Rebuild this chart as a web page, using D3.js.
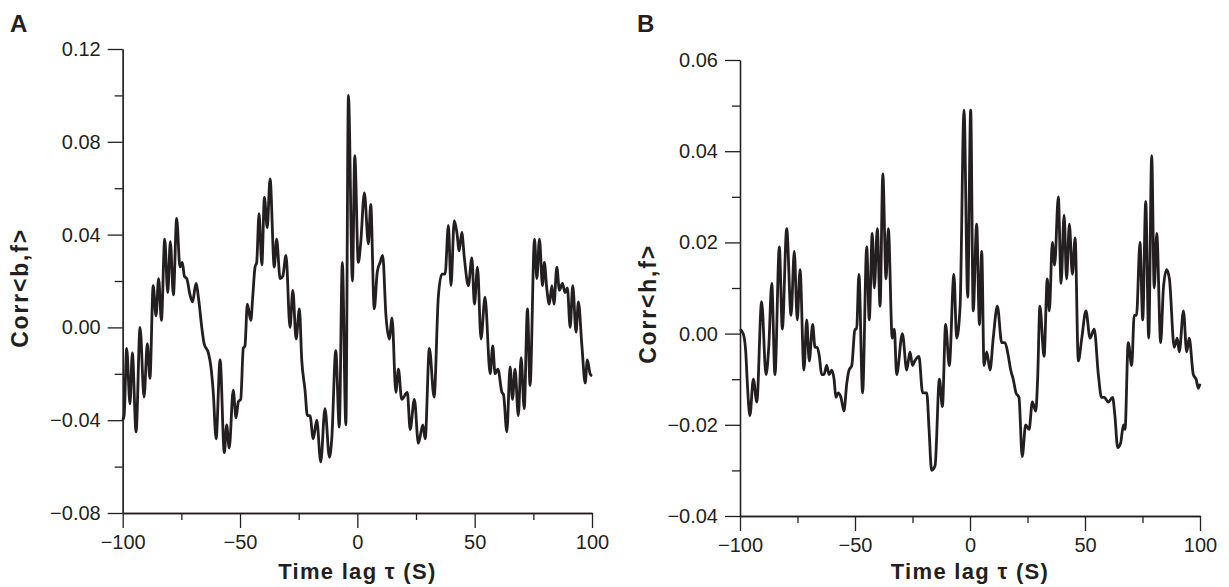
<!DOCTYPE html>
<html>
<head>
<meta charset="utf-8">
<script src="https://cdn.jsdelivr.net/npm/d3@7"></script>
<style>
  body { margin: 0; background: #fff; }
  text { font-family: "Liberation Sans", Arial, sans-serif; fill: #231f20; }
</style>
</head>
<body>
<div id="chart"></div>
<script>
// tick values
const xTicks = [-100, -50, 0, 50, 100];
const xMinor = [-75, -25, 25, 75];
const yTicksA = [-0.08, -0.04, 0, 0.04, 0.08, 0.12];
const yMinorA = [-0.06, -0.02, 0.02, 0.06, 0.10];
const yTicksB = [-0.04, -0.02, 0, 0.02, 0.04, 0.06];
const yMinorB = [-0.03, -0.01, 0.01, 0.03, 0.05];

// panel A: Corr<b,f>
const lagA = [-100, -99.4, -98.3, -96.9, -95.9, -94.3, -92.6, -90.9, -89.5, -88.4, -87.0, -85.8, -84.7, -83.5,
  -82.1, -80.8, -79.7, -78.4, -77.0, -75.6, -74.6, -73.7, -72.7, -71.3, -70.2, -68.8, -67.5, -66.3, -65.3,
  -63.5, -62.4, -61.4, -60.2, -58.5, -56.7, -55.7, -54.6, -52.9, -51.7, -50.7, -49.7, -48.6, -47.9, -46.9,
  -45.4, -44.6, -43.6, -42.9, -41.9, -40.7, -39.6, -38.4, -37.2, -35.4, -34.4, -32.9, -31.8, -30.4, -28.7,
  -27.5, -26.1, -24.7, -23.7, -22.3, -21.3, -20.2, -18.8, -17.3, -15.6, -13.8, -11.9, -10.9, -9.2, -7.7,
  -6.4, -4.9, -3.8, -2.1, -1.1, 0.4, 1.4, 3.0, 4.7, 5.7, 7.2, 8.5, 9.7, 10.8, 12.2, 13.6, 14.8, 16.4, 17.5,
  18.9, 21.3, 22.5, 24.3, 26.0, 27.9, 28.9, 30.7, 32.7, 34.5, 36.0, 37.4, 38.8, 39.9, 41.3, 42.4, 43.4,
  44.5, 45.6, 47.3, 48.8, 49.9, 51.2, 52.7, 54.4, 56.6, 57.7, 58.7, 59.9, 61.6, 62.3, 63.7, 65.1, 66.1,
  67.2, 68.6, 69.8, 71.1, 72.5, 73.6, 75.5, 76.5, 77.6, 78.9, 79.7, 80.7, 81.8, 82.9, 83.8, 85.0, 86.1,
  87.4, 88.5, 89.5, 90.7, 91.8, 93.2, 94.2, 95.7, 97.1, 98.0, 99.2, 100];
const corrA = [-0.040, -0.038, -0.009, -0.033, -0.011, -0.045, 0.000, -0.030, -0.007, -0.022, 0.018, 0.005,
  0.021, 0.003, 0.038, 0.015, 0.037, 0.014, 0.047, 0.026, 0.028, 0.022, 0.021, 0.014, 0.011, 0.019, 0.011,
  0.000, -0.007, -0.011, -0.017, -0.028, -0.048, -0.014, -0.054, -0.042, -0.052, -0.027, -0.039, -0.032,
  -0.031, -0.009, -0.008, 0.010, 0.003, 0.013, 0.026, 0.028, 0.049, 0.027, 0.056, 0.043, 0.064, 0.026,
  0.038, 0.021, 0.022, 0.031, 0.000, 0.016, -0.005, 0.008, -0.014, -0.027, -0.038, -0.038, -0.048, -0.040,
  -0.058, -0.035, -0.056, -0.048, -0.010, -0.043, 0.028, -0.042, 0.100, 0.020, 0.074, 0.028, 0.036, 0.058,
  0.036, 0.053, 0.008, 0.024, 0.028, 0.031, 0.005, -0.005, 0.004, -0.028, -0.018, -0.031, -0.028, -0.044,
  -0.031, -0.050, -0.042, -0.048, -0.009, -0.030, 0.013, 0.023, 0.023, 0.044, 0.018, 0.046, 0.041, 0.033,
  0.041, 0.030, 0.018, 0.030, 0.010, 0.026, -0.005, 0.013, -0.020, -0.008, -0.020, -0.018, -0.028, -0.029,
  -0.045, -0.017, -0.031, -0.018, -0.038, -0.013, -0.035, 0.008, -0.025, 0.038, 0.021, 0.038, 0.018, 0.028,
  0.017, 0.010, 0.018, 0.010, 0.026, 0.016, 0.019, 0.015, 0.017, 0.000, 0.018, -0.002, 0.011, -0.008,
  -0.024, -0.014, -0.020, -0.021];

// panel B: Corr<h,f>
const lagB = [-100, -98.6, -97.5, -96.8, -95.7, -94.2, -92.7, -90.6, -88.7, -87.5, -86.2, -84.8, -82.9, -81.6,
  -79.7, -77.8, -76.4, -75.1, -73.9, -72.2, -71.0, -69.9, -68.4, -67.4, -66.4, -65.5, -64.5, -63.5, -62.3,
  -61.3, -60.1, -59.1, -58.3, -57.3, -56.1, -54.8, -53.6, -52.6, -51.4, -50.0, -49.3, -48.3, -46.7, -44.9,
  -43.8, -42.5, -41.6, -40.3, -39.1, -37.9, -36.5, -35.5, -33.8, -32.9, -31.9, -29.4, -27.5, -26.1, -25.0,
  -24.0, -22.2, -20.6, -18.8, -17.8, -16.7, -15.2, -13.3, -12.0, -10.6, -9.0, -7.0, -5.8, -4.3, -2.6, -1.0,
  0.3, 1.4, 2.9, 4.1, 5.1, 6.1, 7.3, 8.7, 10.1, 11.9, 13.8, 15.2, 16.7, 17.7, 18.8, 20.0, 21.3, 22.7, 24.2,
  25.7, 27.1, 28.6, 29.4, 30.4, 32.2, 33.6, 34.5, 35.8, 36.8, 38.4, 39.6, 40.9, 42.0, 43.2, 44.5, 45.7,
  47.1, 48.6, 50.4, 52.2, 54.0, 55.8, 57.2, 58.4, 60.1, 62.0, 63.0, 64.2, 65.5, 66.7, 67.4, 68.8, 70.3,
  71.4, 72.4, 73.9, 75.1, 76.4, 77.7, 79.0, 80.1, 81.2, 82.9, 84.1, 85.5, 86.7, 88.8, 90.1, 91.0, 92.8,
  94.2, 95.3, 97.1, 98.3, 99.3, 100];
const corrB = [0.001, 0.000, -0.004, -0.011, -0.018, -0.010, -0.015, 0.007, -0.009, -0.003, 0.011, -0.009,
  0.019, 0.001, 0.023, 0.004, 0.018, 0.003, 0.014, -0.008, 0.003, -0.006, 0.002, -0.003, -0.003, -0.005,
  -0.009, -0.009, -0.007, -0.009, -0.008, -0.010, -0.014, -0.013, -0.014, -0.017, -0.011, -0.008, -0.007,
  0.001, 0.001, 0.013, -0.013, 0.019, 0.003, 0.022, 0.010, 0.023, 0.006, 0.035, 0.012, 0.023, -0.001,
  0.001, -0.009, 0.000, -0.008, -0.004, -0.007, -0.006, -0.005, -0.013, -0.013, -0.021, -0.030, -0.029,
  -0.010, -0.016, 0.002, -0.007, 0.013, -0.001, 0.006, 0.049, 0.008, 0.049, 0.005, 0.024, 0.002, 0.018,
  -0.007, -0.004, -0.008, -0.001, 0.006, -0.002, -0.002, -0.005, -0.008, -0.010, -0.013, -0.014, -0.027,
  -0.020, -0.021, -0.015, -0.017, -0.010, 0.006, -0.005, 0.012, 0.005, 0.020, 0.015, 0.030, 0.011, 0.026,
  0.012, 0.024, 0.013, 0.021, -0.006, -0.001, 0.005, -0.001, 0.001, -0.009, -0.014, -0.014, -0.015,
  -0.014, -0.018, -0.025, -0.024, -0.020, -0.021, -0.002, -0.007, 0.004, 0.004, 0.020, 0.003, 0.029,
  -0.001, 0.039, 0.010, 0.022, -0.002, 0.010, 0.014, 0.012, -0.003, -0.001, -0.004, 0.005, -0.004,
  -0.001, -0.009, -0.010, -0.012, -0.011];

const width = 1229;
const height = 587;
const ink = "#231f20";

const svg = d3.select("#chart")
  .append("svg")
  .attr("width", width)
  .attr("height", height)
  .style("background", "#fff");

const drawPanel = (p) => {
  const xScale = d3.scaleLinear().domain([-100, 100]).range([p.left, p.right]);
  const yScale = d3.scaleLinear().domain(p.yDomain).range([p.bottom, p.top]);
  const g = svg.append("g");

  // minor ticks first, then major axes on top
  g.append("g")
    .attr("transform", `translate(0, ${p.bottom})`)
    .call(d3.axisBottom(xScale).tickValues(xMinor).tickSize(7).tickSizeOuter(0).tickFormat(""));
  g.append("g")
    .attr("transform", `translate(${p.left}, 0)`)
    .call(d3.axisLeft(yScale).tickValues(p.yMinor).tickSize(8).tickSizeOuter(0).tickFormat(""));

  g.append("g")
    .attr("class", "x-axis")
    .attr("transform", `translate(0, ${p.bottom})`)
    .call(d3.axisBottom(xScale).tickValues(xTicks).tickSize(15).tickSizeOuter(0).tickPadding(7)
      .tickFormat(d3.format("d")));
  g.append("g")
    .attr("class", "y-axis")
    .attr("transform", `translate(${p.left}, 0)`)
    .call(d3.axisLeft(yScale).tickValues(p.yTicks).tickSize(15).tickSizeOuter(0).tickPadding(7)
      .tickFormat(d3.format(".2f")));

  g.selectAll("path.domain, .tick line")
    .attr("stroke", ink)
    .attr("stroke-width", 1.3);
  g.selectAll(".tick text")
    .attr("fill", ink)
    .style("font-size", "20px")
    .style("font-family", "'Liberation Sans', Arial, sans-serif");

  const line = d3.line()
    .x((d) => xScale(d[0]))
    .y((d) => yScale(d[1]))
    .curve(d3.curveMonotoneX);

  g.append("path")
    .datum(d3.zip(p.lag, p.corr))
    .attr("fill", "none")
    .attr("stroke", ink)
    .attr("stroke-width", 2.8)
    .attr("stroke-linejoin", "round")
    .attr("d", line);

  // panel letter
  g.append("text")
    .attr("x", p.letterX)
    .attr("y", 32)
    .style("font-size", "24px")
    .style("font-weight", "bold")
    .text(p.letter);

  // axis titles
  g.append("text")
    .attr("x", (p.left + p.right) / 2)
    .attr("y", 579)
    .attr("text-anchor", "middle")
    .style("font-size", "22px")
    .style("font-weight", "bold")
    .style("letter-spacing", "1.3px")
    .text("Time lag τ (S)");

  g.append("text")
    .attr("transform", `translate(${p.yTitleX}, ${p.yTitleY}) rotate(-90)`)
    .attr("text-anchor", "middle")
    .style("font-size", "23px")
    .style("font-weight", "bold")
    .style("letter-spacing", "1.8px")
    .text(p.yTitle);
};

drawPanel({
  lag: lagA, corr: corrA,
  yDomain: [-0.08, 0.12], yTicks: yTicksA, yMinor: yMinorA,
  left: 122.7, right: 592, top: 49, bottom: 513,
  letter: "A", letterX: 10,
  yTitle: "Corr<b,f>", yTitleX: 28, yTitleY: 288
});

drawPanel({
  lag: lagB, corr: corrB,
  yDomain: [-0.04, 0.06], yTicks: yTicksB, yMinor: yMinorB,
  left: 740, right: 1200, top: 60, bottom: 516,
  letter: "B", letterX: 637,
  yTitle: "Corr<h,f>", yTitleX: 656, yTitleY: 304
});
</script>
</body>
</html>
